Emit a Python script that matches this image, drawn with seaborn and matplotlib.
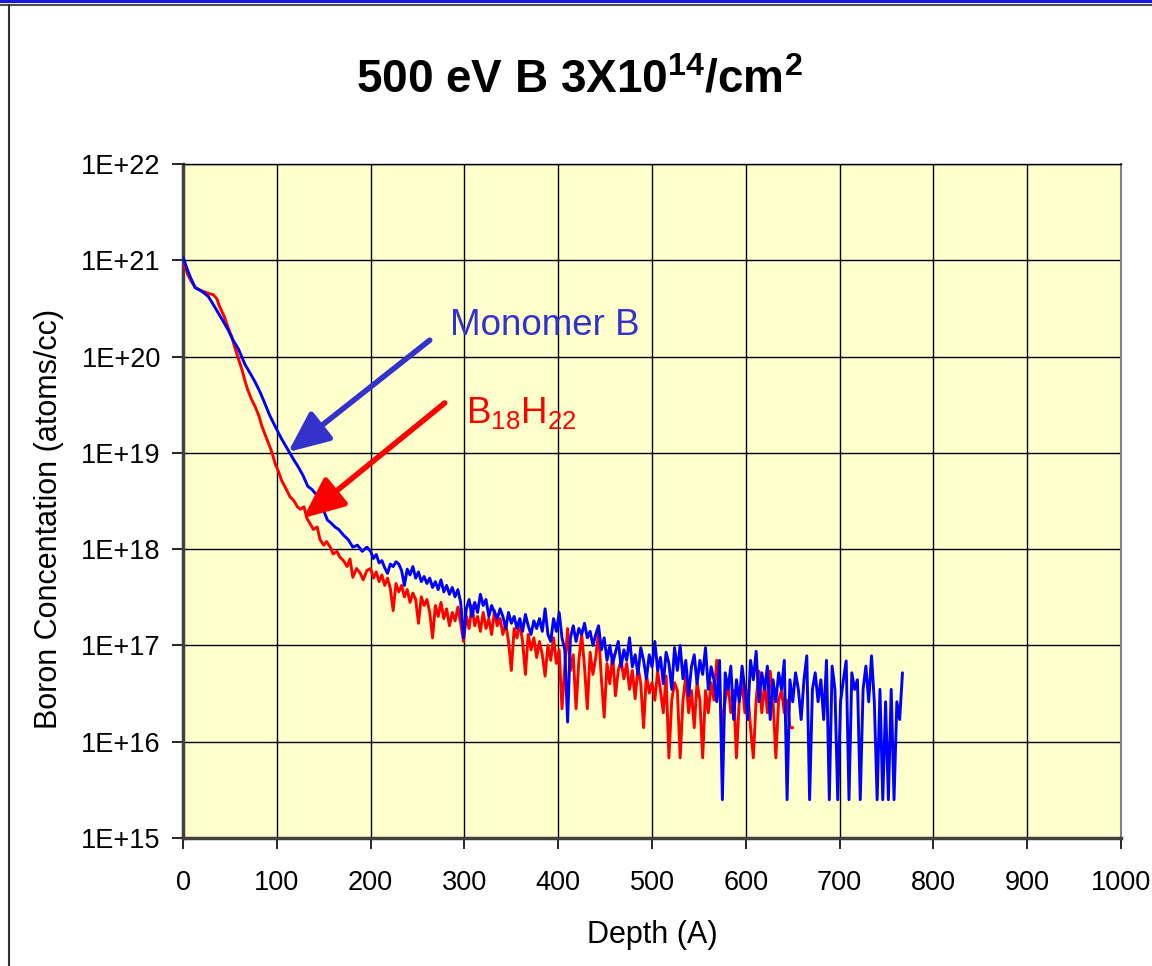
import numpy as np
import pandas as pd
import matplotlib
matplotlib.use("Agg")
import matplotlib.pyplot as plt
import seaborn as sns
from matplotlib.lines import Line2D
from matplotlib.ticker import NullLocator

# ==========================================
# DATA
# ==========================================
# Monomer B, steep near-surface part
blue_head_depth = [0, 2, 4, 8, 13, 18, 22, 27, 32, 37, 42, 48, 53, 59, 66, 72, 77, 82, 87, 92,
                   98, 105, 112, 118, 123, 128, 133, 137, 141, 146, 150, 154, 157, 162, 166,
                   171, 176, 181, 186, 191, 196]
blue_head_conc = [1.07e21, 9.5e20, 8.3e20, 6.6e20, 5.2e20, 4.9e20, 4.6e20, 4.2e20, 3.5e20, 2.9e20,
                  2.4e20, 1.9e20, 1.5e20, 1.2e20, 8.3e19, 6.6e19, 5.4e19, 4.3e19, 3.3e19, 2.5e19,
                  1.9e19, 1.4e19, 1.07e19, 8.5e18, 7.1e18, 5.8e18, 4.5e18, 4.2e18, 3.8e18, 3.2e18,
                  2.5e18, 2.0e18, 1.9e18, 1.7e18, 1.6e18, 1.4e18, 1.26e18, 1.05e18, 1.1e18, 9.5e17,
                  1.05e18]
# Monomer B, noisy tail (every 3 A from 200 A)
blue_tail_conc = [
    9.5e17, 8.0e17, 8.8e17, 7.2e17, 7.6e17, 6.4e17, 5.6e17, 7.0e17, 6.6e17, 7.4e17,
    7.0e17, 6.0e17, 4.2e17, 6.2e17, 5.4e17, 6.6e17, 5.0e17, 5.8e17, 4.6e17, 5.2e17,
    4.4e17, 5.0e17, 4.0e17, 4.6e17, 3.8e17, 4.8e17, 3.6e17, 4.2e17, 3.4e17, 4.0e17,
    3.2e17, 3.8e17, 2.8e17, 1.2e17, 2.4e17, 3.0e17, 2.0e17, 2.8e17, 2.2e17, 3.4e17,
    2.6e17, 3.0e17, 2.0e17, 2.6e17, 2.2e17, 1.9e17, 2.4e17, 2.0e17, 1.5e17, 2.2e17,
    1.7e17, 2.0e17, 1.5e17, 1.9e17, 1.4e17, 2.1e17, 1.6e17, 1.3e17, 1.8e17, 1.5e17,
    1.9e17, 1.4e17, 2.4e17, 1.3e17, 1.1e17, 1.9e17, 1.4e17, 2.2e17, 1.2e17, 9.0e16,
    1.6e16, 1.2e17, 1.6e17, 1.1e17, 1.5e17, 1.3e17, 1.7e17, 1.2e17, 1.4e17, 1.0e17,
    1.3e17, 1.6e17, 9.0e16, 1.2e17, 7.0e16, 1.0e17, 6.5e16, 8.5e16, 1.1e17, 6.0e16,
    9.0e16, 7.0e16, 1.2e17, 6.0e16, 8.0e16, 5.0e16, 9.5e16, 7.0e16, 4.5e16, 8.0e16,
    6.0e16, 1.1e17, 5.5e16, 7.5e16, 4.0e16, 8.5e16, 6.5e16, 3.5e16, 9.5e16, 5.5e16,
    1.0e17, 4.5e16, 7.0e16, 3.0e16, 6.0e16, 8.0e16, 4.0e16, 7.0e16, 5.0e16, 9.5e16,
    3.5e16, 6.0e16, 4.4e16, 2.6e16, 7.0e16, 2.5e15, 5.2e16, 3.5e16, 6.1e16, 1.7e16,
    4.4e16, 2.6e16, 6.1e16, 3.5e16, 1.7e16, 7.0e16, 4.4e16, 8.7e16, 2.6e16, 5.2e16,
    3.5e16, 6.1e16, 1.7e16, 4.4e16, 2.6e16, 5.2e16, 3.5e16, 7.0e16, 2.5e15, 4.4e16,
    2.6e16, 5.2e16, 3.5e16, 1.7e16, 4.4e16, 7.8e16, 2.5e15, 3.5e16, 5.2e16, 2.6e16,
    4.4e16, 1.7e16, 7.0e16, 2.5e15, 6.1e16, 3.5e16, 2.5e15, 2.6e16, 4.4e16, 6.9e16,
    2.5e15, 5.2e16, 3.5e16, 4.4e16, 2.5e15, 3.5e16, 6.1e16, 2.6e16, 7.8e16, 2.6e16,
    2.5e15, 3.5e16, 2.5e15, 2.6e16, 2.5e15, 3.5e16, 2.5e15, 2.6e16, 1.7e16, 5.2e16,
]

# B18H22, steep near-surface part
red_head_depth = [0, 2, 5, 9, 13, 18, 23, 28, 32, 36, 39, 44, 48, 52, 55, 59, 63, 66, 69, 73,
                  77, 81, 84, 88, 91, 95, 98, 102, 105, 110, 114, 118, 122, 125, 129, 132, 136,
                  139, 143, 146, 150, 153, 157, 160, 164, 167, 171, 175, 178, 181, 185, 189,
                  192, 196]
red_head_conc = [8.5e20, 8.9e20, 7.1e20, 6.0e20, 5.2e20, 4.9e20, 4.7e20, 4.5e20, 4.4e20, 4.0e20,
                 3.3e20, 2.6e20, 2.0e20, 1.6e20, 1.26e20, 9.5e19, 7.2e19, 5.6e19, 4.5e19, 3.6e19,
                 3.0e19, 2.4e19, 1.9e19, 1.5e19, 1.26e19, 1.0e19, 7.8e18, 6.3e18, 5.2e18, 4.2e18,
                 3.5e18, 3.2e18, 2.75e18, 2.6e18, 2.75e18, 2.1e18, 1.8e18, 1.6e18, 1.7e18, 1.26e18,
                 1.1e18, 1.2e18, 1.05e18, 8.9e17, 9.5e17, 8.3e17, 7.6e17, 6.6e17, 7.9e17, 5.1e17,
                 6.3e17, 5.6e17, 4.8e17, 6.0e17]
# B18H22, noisy tail (every 3 A from 200 A)
red_tail_conc = [
    6.3e17, 5.0e17, 5.8e17, 4.6e17, 5.4e17, 4.2e17, 5.0e17, 3.9e17, 2.3e17, 4.4e17,
    3.6e17, 4.2e17, 3.2e17, 3.8e17, 2.8e17, 3.5e17, 3.0e17, 1.7e17, 3.2e17, 2.6e17,
    3.0e17, 2.2e17, 1.2e17, 2.6e17, 2.0e17, 2.8e17, 1.9e17, 2.4e17, 1.6e17, 2.2e17,
    1.8e17, 2.5e17, 1.7e17, 1.1e17, 2.0e17, 1.5e17, 2.6e17, 1.6e17, 2.0e17, 1.4e17,
    2.2e17, 1.5e17, 1.9e17, 1.3e17, 2.3e17, 1.6e17, 1.9e17, 1.3e17, 1.7e17, 1.1e17,
    5.5e16, 1.5e17, 1.2e17, 1.7e17, 1.1e17, 5.0e16, 1.3e17, 9.0e16, 1.2e17, 7.5e16,
    1.1e17, 8.0e16, 4.8e16, 1.0e17, 7.0e16, 1.2e17, 6.5e16, 9.0e16, 2.2e16, 6.0e16,
    1.5e17, 5.5e16, 8.0e16, 2.2e16, 7.0e16, 1.3e17, 6.0e16, 2.2e16, 8.5e16, 5.0e16,
    7.5e16, 1.4e17, 4.5e16, 1.8e16, 6.5e16, 4.0e16, 8.0e16, 3.0e16, 5.5e16, 7.0e16,
    4.5e16, 6.5e16, 3.5e16, 5.5e16, 2.8e16, 6.0e16, 4.0e16, 1.4e16, 5.0e16, 3.2e16,
    4.1e16, 2.7e16, 5.4e16, 3.4e16, 2.0e16, 4.8e16, 6.8e15, 2.7e16, 4.1e16, 3.4e16,
    6.8e15, 2.7e16, 4.8e16, 2.0e16, 3.4e16, 1.4e16, 4.1e16, 2.7e16, 6.8e15, 3.4e16,
    2.0e16, 4.1e16, 2.7e16, 7.0e16, 3.4e16, 1.4e16, 2.7e16, 4.1e16, 2.0e16, 3.4e16,
    6.8e15, 2.7e16, 4.1e16, 2.0e16, 3.4e16, 1.4e16, 6.8e15, 2.7e16, 5.4e16, 2.0e16,
    4.1e16, 2.0e16, 5.4e16, 2.7e16, 6.8e15, 2.7e16, 3.4e16, 2.0e16, 2.7e16, 1.4e16,
    1.4e16,
]

blue_tail_depth = np.arange(200, 768, 3)
red_tail_depth = np.arange(200, 651, 3)

x_ticks = [0, 100, 200, 300, 400, 500, 600, 700, 800, 900, 1000]
y_ticks = [1e15, 1e16, 1e17, 1e18, 1e19, 1e20, 1e21, 1e22]
y_tick_labels = ["1E+15", "1E+16", "1E+17", "1E+18", "1E+19", "1E+20", "1E+21", "1E+22"]

df = pd.concat([
    pd.DataFrame({"depth": list(red_head_depth) + list(red_tail_depth),
                  "conc": red_head_conc + red_tail_conc, "series": "B18H22"}),
    pd.DataFrame({"depth": list(blue_head_depth) + list(blue_tail_depth),
                  "conc": blue_head_conc + blue_tail_conc, "series": "Monomer B"}),
], ignore_index=True)

# ==========================================
# STYLE
# ==========================================
sns.set_style("ticks")
plt.rcParams['font.family'] = ['Liberation Sans', 'DejaVu Sans']
plt.rcParams['mathtext.fontset'] = 'custom'
plt.rcParams['mathtext.rm'] = 'Liberation Sans'
plt.rcParams['mathtext.it'] = 'Liberation Sans:italic'
plt.rcParams['mathtext.bf'] = 'Liberation Sans:bold'
plt.rcParams['text.color'] = 'black'
plt.rcParams['axes.labelcolor'] = 'black'
plt.rcParams['xtick.color'] = 'black'
plt.rcParams['ytick.color'] = 'black'

fig = plt.figure(figsize=(11.52, 9.66), dpi=100)
ax = fig.add_axes([0.1589, 0.1325, 0.8142, 0.6977])
ax.set_facecolor('#FFFFCC')

sns.lineplot(data=df, x="depth", y="conc", hue="series",
             hue_order=["B18H22", "Monomer B"],
             palette={"B18H22": "#FF0000", "Monomer B": "#0000FF"},
             estimator=None, sort=False, linewidth=2.1, legend=False, ax=ax, zorder=3)

ax.set_yscale('log')
ax.set_xlim(0, 1000)
ax.set_ylim(1e15, 1e22)
ax.set_xticks(x_ticks)
ax.set_yticks(y_ticks, y_tick_labels)
ax.yaxis.set_minor_locator(NullLocator())
ax.grid(True, color='black', linewidth=1.0, zorder=1)
ax.set_axisbelow(True)

ax.tick_params(axis='both', direction='out', length=8, width=1.2, labelsize=19.5,
               colors='black', labelcolor='black')
ax.tick_params(axis='x', pad=15)
ax.tick_params(axis='y', pad=8)

for side in ['left', 'bottom']:
    ax.spines[side].set_color('#404040')
    ax.spines[side].set_linewidth(2.5)
ax.spines['right'].set_color('#808080')
ax.spines['right'].set_linewidth(1.5)
ax.spines['top'].set_color('black')
ax.spines['top'].set_linewidth(1.0)

ax.set_xlabel('Depth (A)', fontsize=22, color='black')
ax.set_ylabel('Boron Concentation (atoms/cc)', fontsize=22, color='black')
ax.xaxis.set_label_coords(0.5, -0.122)
ax.yaxis.set_label_coords(-0.127, 0.473)

# annotations
ax.annotate('', xy=(112, 1.02e19), xytext=(263, 1.48e20),
            arrowprops=dict(arrowstyle='-|>,head_length=2.5,head_width=1.1',
                            color='#3333CC', lw=4, shrinkA=0, shrinkB=0,
                            mutation_scale=10), zorder=5)
ax.annotate('', xy=(128, 2.1e18), xytext=(279, 3.3e19),
            arrowprops=dict(arrowstyle='-|>,head_length=2.5,head_width=1.1',
                            color='#FF0000', lw=4, shrinkA=0, shrinkB=0,
                            mutation_scale=10), zorder=5)
ax.text(285, 2.1e20, 'Monomer B', color='#3333CC', fontsize=26.5, va='center', ha='left')
ax.text(302, 2.6e19, r'B$_{18}$H$_{22}$', color='#FF0000', fontsize=26.5, va='center', ha='left')

fig.text(0.503, 0.917, r'500 eV B 3X10$^{\mathbf{14}}$/cm$^{\mathbf{2}}$',
         fontsize=33, fontweight='bold', ha='center', va='center', color='black')

# slide frame lines
fig.add_artist(Line2D([0, 1], [0.9985, 0.9985], color='#1a1add', lw=3, transform=fig.transFigure))
fig.add_artist(Line2D([0, 1], [0.9945, 0.9945], color='#505050', lw=1.5, transform=fig.transFigure))
fig.add_artist(Line2D([0.0075, 0.0075], [0, 0.9945], color='#303030', lw=1.5, transform=fig.transFigure))

fig.savefig('out.png', dpi=100)
